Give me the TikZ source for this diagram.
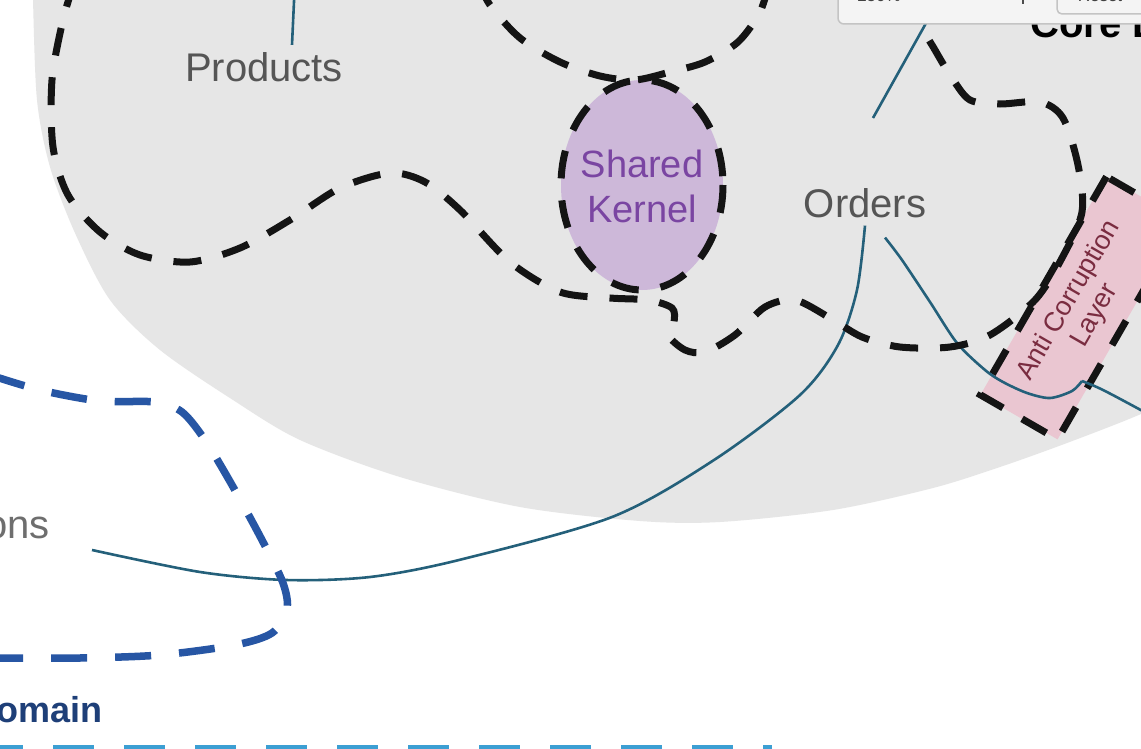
\documentclass[tikz,border=0pt]{standalone}
\usepackage{fontspec}
\setmainfont{Liberation Sans}
\usepackage{tikz}

\definecolor{blobgrey}{HTML}{E6E6E6}
\definecolor{ctxblack}{HTML}{141414}
\definecolor{linkteal}{HTML}{24607A}
\definecolor{kernelfill}{HTML}{CDB8D9}
\definecolor{kerneltext}{HTML}{7A45A2}
\definecolor{aclfill}{HTML}{EAC6D1}
\definecolor{acltext}{HTML}{7A2C40}
\definecolor{labelgrey}{HTML}{555555}
\definecolor{genblue}{HTML}{2756A4}
\definecolor{gentitle}{HTML}{1E3F78}
\definecolor{subcyan}{HTML}{3C9FD3}
\definecolor{panelfill}{HTML}{F4F4F4}
\definecolor{panelline}{HTML}{C4C4C4}

\begin{document}
\begin{tikzpicture}[x=1pt,y=-1pt,
    ctx/.style={draw=ctxblack,line width=7pt,dash pattern=on 28pt off 22pt},
    link/.style={draw=linkteal,line width=2.6pt},
    lbl/.style={font=\fontsize{40}{48}\selectfont,text=labelgrey,inner sep=8pt}]
  \useasboundingbox (0,0) rectangle (1141,749);
  \clip (0,0) rectangle (1141,749);
  \fill[white] (0,0) rectangle (1141,749);
  % core domain area
  \fill[blobgrey] (20,-40) -- plot[smooth] coordinates {(33,-20) (33,0) (37,100) (50,167) (75,233) (110,300) (160,350) (233,400) (300,440) (400,477) (520,507) (640,521) (720,522) (833,510) (933,488) (1000,467) (1067,443) (1141,414) (1200,385)} -- (1200,-40) -- cycle;
  \fill[kernelfill] (642,185) ellipse (81 and 105);
  \node[ctx,rotate=60,minimum width=252pt,minimum height=89pt,fill=aclfill,inner sep=0pt,
        align=center,text=acltext,font=\fontsize{27}{30}\selectfont] (acl) at (1082,308) {Anti Corruption\\Layer};

  % labels
  \node[lbl,anchor=base] (products) at (264,82) {Products};
  \node[lbl,anchor=base] (orders) at (865,217) {Orders};
  \node[lbl,anchor=base east,text=labelgrey!85] (ons) at (58,538) {ons};
  \node[align=center,text=kerneltext,font=\fontsize{38}{45}\selectfont,inner sep=0pt] (kernel) at (642,186) {Shared\\Kernel};

  % connectors
  \coordinate (prodtop) at (295,-20);
  \coordinate (ordupa) at (873,118);
  \coordinate (ordupb) at (930,16);
  \coordinate (onsend) at (92,550);
  \coordinate (acldip) at (1082,381);
  \coordinate (aclout) at (1150,415);
  \draw[link] ([xshift=28pt]products.north) -- (prodtop);
  \draw[link] (ordupa) -- (ordupb);
  \draw[link] plot[smooth] coordinates {(orders.south) (857,290) (838,345) (800,395) (714,460) (612,517) (459,560) (370,577) (286,580) (200,572) (onsend)};
  \draw[link] plot[smooth] coordinates {([xshift=20pt,yshift=-12pt]orders.south) (902,260) (930,302) (957,343) (985,370) (1003,382) (1027,393) (1050,398) (1072,391) (acldip)};
  \draw[link] (acldip) .. controls (1100,388) .. (aclout);

  % bounded contexts
  \draw[ctx] plot[smooth] coordinates {(75,-20) (63,20) (52,80) (53,147) (68,195) (100,232) (140,255) (190,262) (240,248) (290,220) (340,188) (390,173) (425,182) (460,210) (510,262) (560,292) (610,298) (648,300) (672,308) (674,322) (668,335) (685,350) (705,352) (735,335) (765,307) (795,300) (830,318) (862,337) (900,347) (950,347) (990,335) (1035,300) (1062,258) (1082,212) (1078,165) (1063,118) (1040,102) (1000,104) (970,100) (952,78) (935,50) (922,25) (915,-20)};
  \draw[ctx] plot[smooth] coordinates {(478,-20) (490,5) (520,38) (560,62) (600,76) (635,80) (670,72) (705,62) (738,42) (760,12) (770,-20)};
  \draw[ctx] (642,185) ellipse (81 and 105);

  % generic domain
  \draw[genblue,line width=7.5pt,dash pattern=on 36pt off 28pt] plot[smooth] coordinates {(-10,375) (40,390) (100,401) (155,402) (182,412) (205,440) (232,485) (262,540) (283,583) (287,610) (272,633) (235,645) (160,655) (80,658) (-10,658)};
  \node[anchor=base west,font=\bfseries\fontsize{36}{40}\selectfont,text=gentitle,inner sep=0pt] (gentitle) at (-4,722) {omain};
  \draw[subcyan,line width=12pt,dash pattern=on 41pt off 30pt] (-18,751) -- (772,751);

  % core domain title and zoom panel
  \node[anchor=base west,font=\bfseries\fontsize{40}{44}\selectfont,inner sep=0pt] (coretitle) at (1030,38) {Core D};
  \draw[fill=panelfill,draw=panelline,line width=1.5pt,rounded corners=6pt] (838,-40) rectangle (1190,24);
  \node[anchor=base,font=\fontsize{17}{20}\selectfont,text=black!75,inner sep=0pt] (zoomlvl) at (879,2) {250\%};
  \draw[black!70,line width=2pt] (1023,-6) -- (1023,4);
  \draw[fill=panelfill,draw=panelline,line width=1.5pt,rounded corners=5pt] (1057,-40) rectangle (1190,14);
  \node[anchor=base,font=\fontsize{17}{20}\selectfont,text=black!75,inner sep=0pt] (resetbtn) at (1100,2) {Reset};
\end{tikzpicture}
\end{document}
